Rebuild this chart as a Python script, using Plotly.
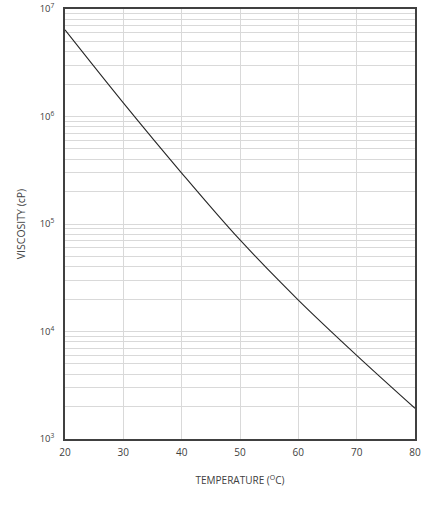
import plotly.graph_objects as go

temperature = [20, 30, 40, 50, 60, 70, 80]
viscosity = [6.4e6, 1.34e6, 2.98e5, 7.1e4, 1.96e4, 6.0e3, 1.93e3]

x_ticks = [20, 30, 40, 50, 60, 70, 80]
y_ticks = [1e3, 1e4, 1e5, 1e6, 1e7]
y_ticklabels = ["10<sup>3</sup>", "10<sup>4</sup>", "10<sup>5</sup>", "10<sup>6</sup>", "10<sup>7</sup>"]
y_minor = [m * d for d in [1e3, 1e4, 1e5, 1e6] for m in range(2, 10)]

fig = go.Figure()
fig.add_trace(go.Scatter(x=temperature, y=viscosity, mode="lines",
                         line=dict(color="#262626", width=1.1, shape="spline"),
                         showlegend=False))

font_family = "Open Sans, Liberation Sans, sans-serif"
fig.update_layout(
    width=437, height=507,
    margin=dict(l=65, r=22, t=9, b=68),
    paper_bgcolor="white", plot_bgcolor="white",
    font=dict(family=font_family, color="#404040", size=9),
    xaxis=dict(range=[20, 80], tickvals=x_ticks, showgrid=True,
               gridcolor="#d9d9d9", gridwidth=1, automargin=False,
               showline=True, linecolor="#404040", linewidth=1.5, mirror=True,
               ticks="", zeroline=False, ticklabelstandoff=3,
               title=dict(text="TEMPERATURE (<sup>O</sup>C)", font=dict(size=10), standoff=19),
               tickfont=dict(size=10)),
    yaxis=dict(type="log", range=[3, 7], tickvals=y_ticks, ticktext=y_ticklabels,
               showgrid=True, gridcolor="#d9d9d9", gridwidth=1, automargin=False,
               showline=True, linecolor="#404040", linewidth=1.5, mirror=True,
               ticks="", zeroline=False, ticklabelstandoff=7,
               minor=dict(tickvals=y_minor, showgrid=True, gridcolor="#d9d9d9", gridwidth=1, ticks=""),
               title=dict(text="VISCOSITY (cP)", font=dict(size=10.5), standoff=12),
               tickfont=dict(size=9.5)),
)
fig.write_html("out.html", config={"displayModeBar": False},
               post_script="document.body.style.margin='0';")
